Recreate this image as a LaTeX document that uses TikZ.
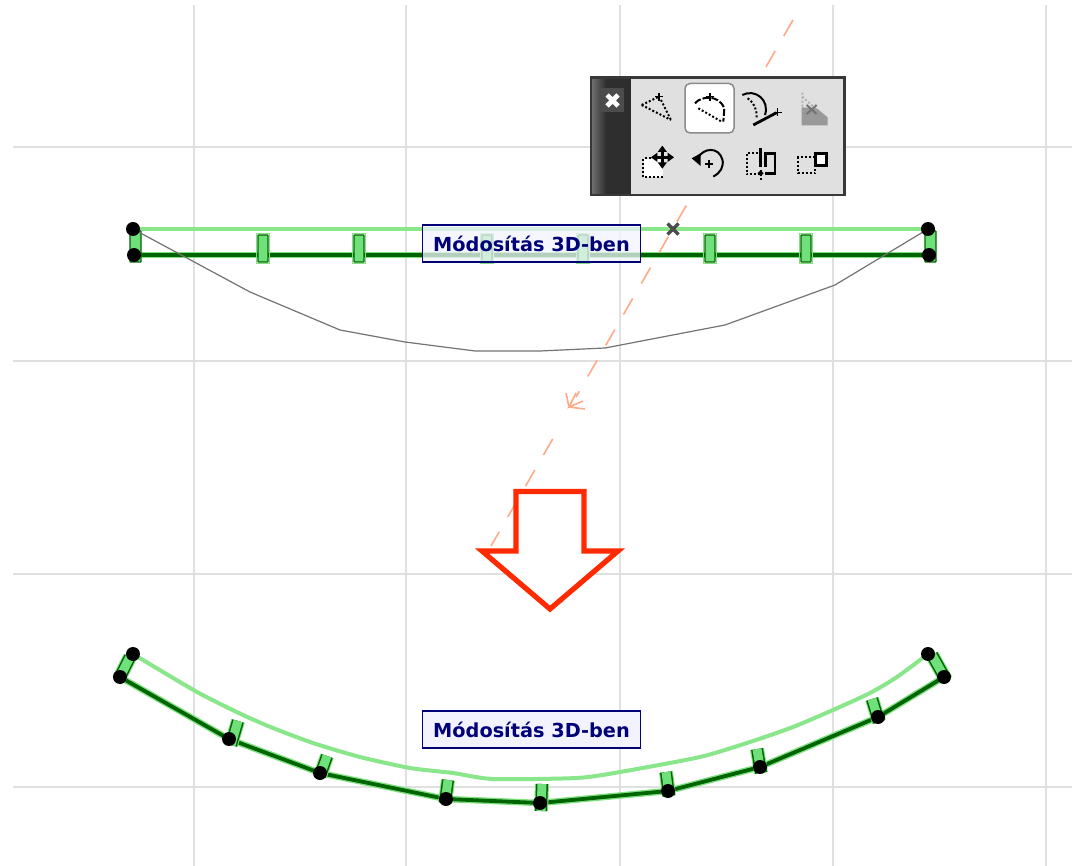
\documentclass[tikz,border=0pt]{standalone}
\usepackage{fontspec}
\setmainfont{DejaVu Sans}
\usetikzlibrary{arrows.meta}
\definecolor{gridc}{HTML}{E0E0E0}
\definecolor{lightg}{HTML}{8AE68A}
\definecolor{darkg}{HTML}{006400}
\definecolor{halog}{HTML}{7FE07F}
\definecolor{fillg}{HTML}{6FE07A}
\definecolor{navy}{HTML}{000078}
\definecolor{redc}{HTML}{FF2A00}
\definecolor{dashc}{HTML}{FFAA88}
\definecolor{palbg}{HTML}{E0E0E0}
\definecolor{lblbg}{HTML}{F2F3FF}
\tikzset{
  gridline/.style={gridc,line width=1.6pt},
  lightline/.style={lightg,line width=4pt,line join=round},
  haloline/.style={halog,line width=6.5pt,line join=round},
  darkline/.style={darkg,line width=3.8pt,line join=round},
  handle/.style={draw=darkg,fill=fillg,line width=1.2pt,rounded corners=.5pt},
  dot/.style={circle,fill=black,inner sep=0pt,minimum size=14pt},
  lbl/.style={draw=navy,line width=1.3pt,minimum width=218pt,minimum height=37pt,inner sep=0pt,text=navy,font=\fontsize{19.3}{20}\selectfont\bfseries},
  ico/.style={line width=2pt,black},
  icodot/.style={line width=2pt,black,dash pattern=on 2pt off 2pt},
  guide/.style={dashc,line width=1.6pt,dash pattern=on 18.5pt off 17.2pt},
}
\newcommand{\hdl}[4]{%
  \draw[halog,line width=14pt] (#1,#2) -- (#3,#4);
  \draw[darkg,line width=12pt] (#1,#2) -- (#3,#4);
  \draw[fillg,line width=9pt] (#1,#2) -- (#3,#4);}
\begin{document}
\begin{tikzpicture}[x=1pt,y=-1pt]
\useasboundingbox (0,0) rectangle (1074,866);
\fill[white] (0,0) rectangle (1074,866);
% grid
\foreach \gx in {194,406,620,833,1046} \draw[gridline] (\gx,5) -- (\gx,866);
\foreach \gy in {147,361,574} \draw[gridline] (13,\gy) -- (1072,\gy);
\draw[gridline] (13,787) -- (1072,787);
% top wall
\draw[lightline] (133,229) -- (928,229);
\draw[haloline] (133,255) -- (928,255);
\draw[darkline] (133,255) -- (928,255);
\foreach \hx in {263,359,487,583,710,806} {\draw[halog,line width=1pt] (\hx-6.5,233.5) rectangle (\hx+6.5,263.5); \draw[handle] (\hx-5,235) rectangle (\hx+5,262);}
\draw[handle] (130,231) rectangle (141,262);
\draw[handle] (925,231) rectangle (936,262);
% curve preview
\draw[black!55,line width=1.2pt,line join=round] (133,229) -- (250,292) -- (340,330) -- (405,342) -- (475,351) -- (540,351) -- (605,348) -- (725,325) -- (835,285) -- (928,229);
\node[dot] (a1) at (133,229) {};
\node[dot] (a2) at (134,255) {};
\node[dot] (a3) at (928,229) {};
\node[dot] (a4) at (929,255) {};
% dashed guide
\draw[guide] (793,20) -- (576,397);
\draw[guide] (552.7,439) -- (491,546);
\draw[dashc,line width=1.6pt] (566,393) -- (569,407) -- (585,409) (576,393) -- (569,407) -- (583,401);
% X mark
\draw[black!70,line width=3.2pt] (667.5,223.5) -- (678.5,234.5) (678.5,223.5) -- (667.5,234.5);
% top label
\node[lbl,fill=lblbg,fill opacity=.75,text opacity=1,draw opacity=1] (t1) at (531.5,243.5) {Módosítás 3D-ben};
% palette
\fill[palbg] (590,77) rectangle (845,195);
\shade[left color=black!55,right color=black!82] (591,78) rectangle (606,194);
\fill[black!82] (606,78) rectangle (631,194);
\draw[black!78,line width=2.6pt] (591,77.5) rectangle (844.5,195);
\fill[black!70] (600,88) rectangle (624,112);
\draw[white,line width=4.6pt] (607,95) -- (618,106) (618,95) -- (607,106);
\draw[black!45,fill=white,line width=1.5pt,rounded corners=5pt] (685,83.5) rectangle (734,133);
\begin{scope}[shift={(585,70)},x=.3333pt,y=-.3333pt]
 % icon 1
 \draw[icodot] (170,105) -- (222,80) (170,105) -- (258,150) (228,90) -- (258,150);
 \draw[ico,line width=1.5pt] (222,68) -- (222,92) (210,80) -- (234,80);
 % icon 2
 \draw[ico,dash pattern=on 7pt off 2pt] (330,100) .. controls (345,80) and (400,70) .. (418,115) -- (415,155);
 \draw[icodot] (340,115) -- (410,155);
 \draw[ico,line width=1.5pt] (375,68) -- (375,92) (363,80) -- (387,80);
 % icon 3
 \draw[ico] (472,75) .. controls (510,55) and (555,90) .. (540,135);
 \draw[icodot] (488,85) .. controls (510,100) and (515,120) .. (515,142);
 \draw[ico,line width=2.8pt] (505,165) -- (575,128);
 \draw[ico,line width=1.5pt] (578,115) -- (578,139) (566,127) -- (590,127);
 % icon 4
 \fill[black!40] (650,112) -- (695,115) -- (728,142) -- (728,166) -- (650,166) -- cycle;
 \draw[black!30,line width=2pt,dash pattern=on 2pt off 2pt] (652,68) -- (652,110) (652,80) -- (690,115);
 \draw[black!55,line width=2pt] (665,105) -- (695,132) (695,105) -- (665,132);
 % icon 5
 \fill[white] (178,268) rectangle (235,320);
 \draw[icodot] (235,320) -- (175,320) -- (175,265) -- (200,265);
 \draw[black,line width=2.4pt] (203,262) -- (262,262) (232,233) -- (232,290);
 \fill[black] (232,227) -- (218,246) -- (246,246) -- cycle (232,296) -- (218,277) -- (246,277) -- cycle
   (198,262) -- (217,248) -- (217,276) -- cycle (267,262) -- (248,248) -- (248,276) -- cycle;
 % icon 6
 \draw[ico] (340,262) .. controls (355,235) and (400,228) .. (412,268) .. controls (418,290) and (405,310) .. (385,320);
 \fill[black] (320,265) -- (347,250) -- (347,288) -- cycle;
 \draw[ico,line width=1.5pt] (372,270) -- (372,294) (360,282) -- (384,282);
 % icon 7
 \draw[icodot] (520,250) -- (485,250) -- (485,312) -- (525,312);
 \draw[ico,line width=2.6pt] (527,235) -- (527,290);
 \draw[ico,line width=2.4pt] (541,290) -- (541,250) -- (570,250) -- (570,310) -- (541,310);
 \draw[icodot] (527,300) -- (527,330);
 \fill[black] (527,301) -- (536,310) -- (527,319) -- (518,310) -- cycle;
 % icon 8
 \draw[icodot] (690,262) -- (640,262) -- (640,310) -- (690,310) -- (690,290);
 \draw[black,fill=white,line width=3pt] (692,250) rectangle (726,287);
\end{scope}
% red arrow
\draw[redc,fill=white,line width=5.2pt,miter limit=10] (516,491.5) -- (584,491.5) -- (584,551) -- (618,551) -- (550,609) -- (482,551) -- (516,551) -- cycle;
% bottom wall
\draw[lightline] plot[smooth,tension=.4] coordinates {(133,654) (197,692) (243,715) (273,728) (313,743) (360,757) (410,768) (453,773) (493,779) (577,778) (620,772) (700,757) (750,742) (793,727) (833,710) (870,693) (897,677) (928,654)};
\draw[haloline] (120,677) -- (229,739) -- (320,773) -- (446,799) -- (540,803) -- (668,791) -- (760,767) -- (878,717) -- (944,677);
\draw[darkline] (120,677) -- (229,739) -- (320,773) -- (446,799) -- (540,803) -- (668,791) -- (760,767) -- (878,717) -- (944,677);
\hdl{238}{721}{231}{745}
\hdl{327}{756}{320}{776}
\hdl{448}{780}{445}{803}
\hdl{542}{784}{541}{811}
\hdl{666}{772}{669}{796}
\hdl{757}{749}{761}{773}
\hdl{872}{699}{879}{722}
\hdl{130}{657}{119}{679}
\hdl{932}{655}{946}{680}
\node[dot] (b1) at (133,654) {};
\node[dot] (b2) at (120,677) {};
\node[dot] (b3) at (229,739) {};
\node[dot] (b4) at (320,773) {};
\node[dot] (b5) at (446,799) {};
\node[dot] (b6) at (540,803) {};
\node[dot] (b7) at (668,791) {};
\node[dot] (b8) at (760,767) {};
\node[dot] (b9) at (878,717) {};
\node[dot] (b10) at (944,677) {};
\node[dot] (b11) at (928,654) {};
% bottom label
\node[lbl,fill=lblbg] (t2) at (531.5,729.5) {Módosítás 3D-ben};
\end{tikzpicture}
\end{document}
